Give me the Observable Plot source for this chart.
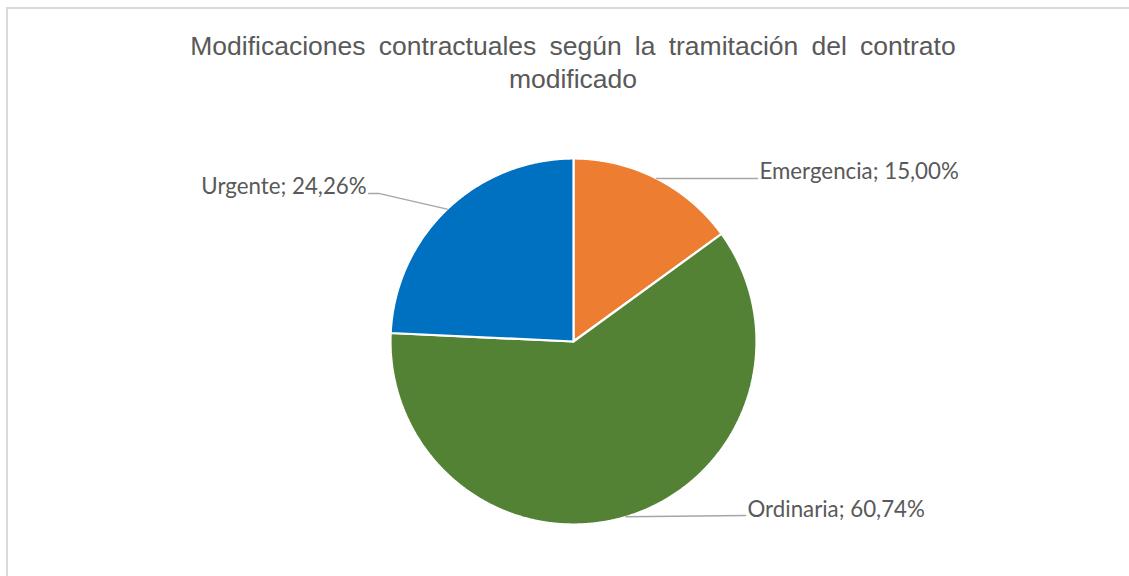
<!DOCTYPE html>
<html><head><meta charset="utf-8">
<script src="https://cdn.jsdelivr.net/npm/d3@7"></script>
<script src="https://cdn.jsdelivr.net/npm/@observablehq/plot@0.6"></script>
<style>
body{margin:0;background:#fff;width:1129px;height:576px;overflow:hidden;position:relative;}
#frame{position:absolute;left:6px;top:7px;right:-4px;bottom:-10px;border-top:2px solid #d9d9d9;border-left:2px solid #d9d9d9;}
#title{position:absolute;left:0;width:1146px;top:30px;text-align:center;font-family:"Liberation Sans",Arial,sans-serif;font-size:26.5px;word-spacing:5.8px;color:#595959;line-height:33px;}
#chart{position:absolute;left:0;top:100px;}
</style></head><body>
<div id="frame"></div>
<div id="title">Modificaciones contractuales según la tramitación del contrato<br>modificado</div>
<div id="chart"></div>
<script>
// ---- data ----
const categories = ["Emergencia", "Ordinaria", "Urgente"];
const values = [15.00, 60.74, 24.26];
const labels = ["Emergencia; 15,00%", "Ordinaria; 60,74%", "Urgente; 24,26%"];
const colors = ["#ED7D31", "#548235", "#0070C0"];

// ---- layout of leader lines (in radius units, relative to slice edge) ----
const leaderLayout = [
  {elbow: [0.551, 0.0], run: 0.0, side: "start"},
  {elbow: [0.653, 0.007], run: 0.0, side: "start"},
  {elbow: [-0.375, 0.086], run: -0.054, side: "end"}
];

const arcs = d3.pie().sort(null)(values);
const slicePts = [];
arcs.forEach((a, i) => {
  slicePts.push({cat: categories[i], x: 0, y: 0});
  const n = Math.max(2, Math.ceil((a.endAngle - a.startAngle) / 0.005));
  for (let k = 0; k <= n; k++) {
    const t = a.startAngle + (a.endAngle - a.startAngle) * k / n;
    slicePts.push({cat: categories[i], x: Math.sin(t), y: Math.cos(t)});
  }
  slicePts.push({cat: categories[i], x: 0, y: 0});
});

const leaderPts = [];
const labelPts = [];
arcs.forEach((a, i) => {
  const m = (a.startAngle + a.endAngle) / 2;
  const ex = Math.sin(m), ey = Math.cos(m);
  const L = leaderLayout[i];
  const bx = ex + L.elbow[0], by = ey + L.elbow[1];
  const cx = bx + L.run, cy = by;
  leaderPts.push({cat: categories[i], x: ex, y: ey});
  leaderPts.push({cat: categories[i], x: bx, y: by});
  leaderPts.push({cat: categories[i], x: cx, y: cy});
  labelPts.push({label: labels[i], x: cx, y: cy, side: L.side});
});

const font = "Lato, 'Open Sans', sans-serif";
const plot = Plot.plot({
  width: 1129,
  height: 476,
  margin: 0,
  x: {domain: [-1, 1], range: [390, 756], axis: null},
  y: {domain: [-1, 1], range: [241 + 183, 241 - 183], axis: null},
  color: {domain: categories, range: colors},
  style: {background: "transparent"},
  marks: [
    Plot.line(slicePts, {x: "x", y: "y", z: "cat", fill: "cat", stroke: "white", strokeWidth: 2.2, strokeLinejoin: "miter", curve: "linear"}),
    Plot.line(leaderPts, {x: "x", y: "y", z: "cat", stroke: "#a6a6a6", strokeWidth: 1.5}),
    Plot.text(labelPts.filter(d => d.side === "start"), {x: "x", y: "y", text: "label", textAnchor: "start", lineAnchor: "bottom", dx: 2, dy: 1, fill: "#595959", fontSize: 22.3, fontFamily: font}),
    Plot.text(labelPts.filter(d => d.side === "end"), {x: "x", y: "y", text: "label", textAnchor: "end", lineAnchor: "bottom", dx: -2, dy: 1, fill: "#595959", fontSize: 22.3, fontFamily: font})
  ]
});
document.getElementById("chart").appendChild(plot);
</script>
</body></html>
